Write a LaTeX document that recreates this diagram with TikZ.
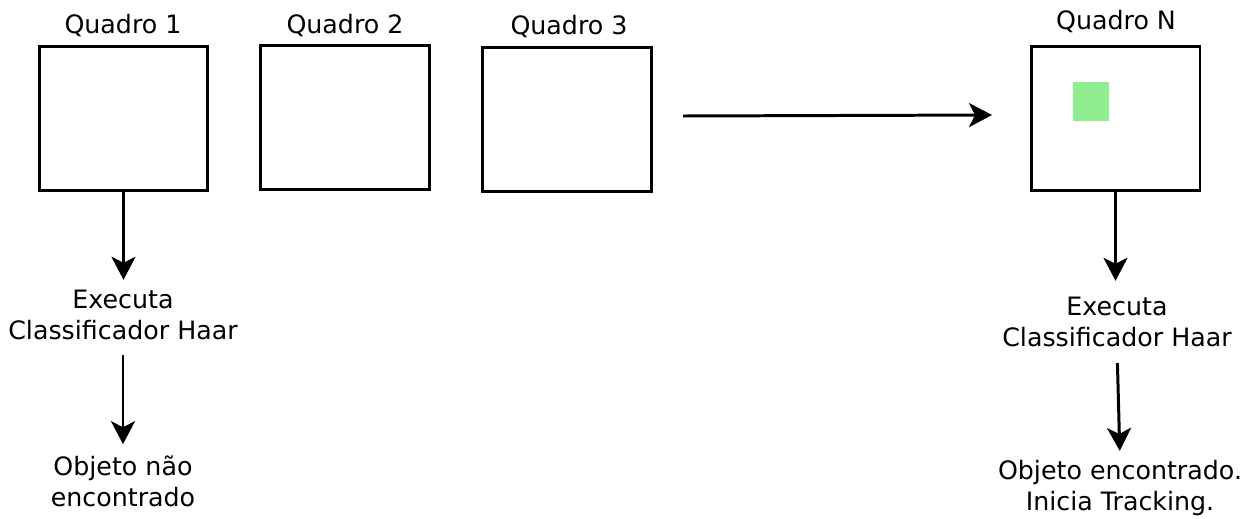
\documentclass[tikz,border=0pt]{standalone}
\usepackage{fontspec}
\setmainfont{DejaVu Sans}
\usepackage{tikz}
\usetikzlibrary{arrows.meta}
\definecolor{verdeclaro}{HTML}{90EE90}
\tikzset{
    quadro/.style = {draw=black, line width=1.7pt, rectangle, minimum width=3.38cm, minimum height=2.9cm, inner sep=0pt},
    titulo/.style = {font=\fontsize{14.4}{17.6}\selectfont, inner sep=0pt},
    rotulo/.style = {font=\fontsize{14.4}{17.6}\selectfont, align=center, inner sep=0pt},
    seta/.style = {line width=1.7pt, -{Stealth[length=0.46cm, width=0.48cm, inset=0.12cm]}},
}

\begin{document}
\begin{tikzpicture}[x=0.02cm, y=-0.02cm]
\useasboundingbox (0,0) rectangle (1247,518);
\node[quadro] (q1) at (123.5,118.5) {};
\node[quadro] (q2) at (345,117.5) {};
\node[quadro] (q3) at (567,119.5) {};
\node[quadro] (qn) at (1115.5,118.5) {};
\fill[verdeclaro] (1073,82) rectangle (1109,121);
\node[titulo] (t1) at (123,26) {Quadro 1};
\node[titulo] (t2) at (345,26) {Quadro 2};
\node[titulo] (t3) at (569,27) {Quadro 3};
\node[titulo] (tn) at (1116,22) {Quadro N};
\node[rotulo] (ex1) at (123,315) {Executa\\Classificador Haar};
\node[rotulo] (ob1) at (123,481) {Objeto não\\encontrado};
\node[rotulo] (exn) at (1117,322) {Executa\\Classificador Haar};
\node[rotulo] (obn) at (1120,488) {Objeto encontrado.\\Inicia Tracking.};
\coordinate (ini) at (683,116);
\coordinate (fim) at (992,115);
\draw[seta] (ini) -- (fim);
\draw[seta, shorten >=0.2cm] (q1.south) -- (ex1.north -| q1.south);
\draw[seta, shorten <=0.3cm, shorten >=0.22cm] (ex1.south) -- (ob1.north);
\draw[seta, shorten >=0.32cm] (qn.south) -- (exn.north -| qn.south);
\draw[seta, shorten <=0.32cm, shorten >=0.18cm] (exn.south) -- (obn.north);
\end{tikzpicture}
\end{document}
